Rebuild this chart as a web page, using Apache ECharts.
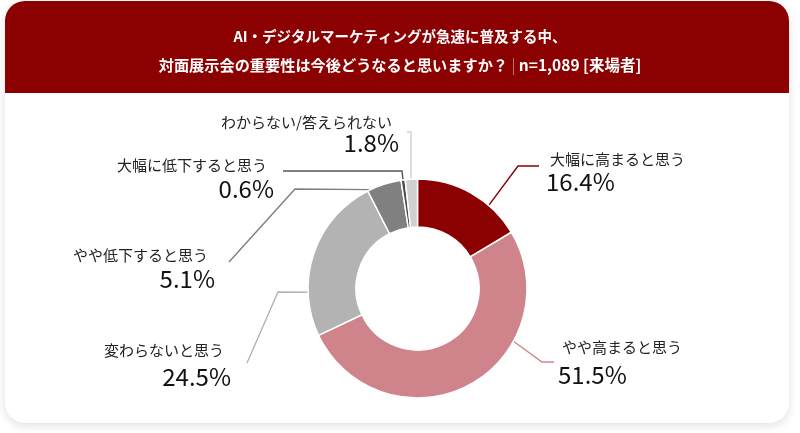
<!DOCTYPE html>
<html>
<head>
<meta charset="utf-8">
<script src="https://cdn.jsdelivr.net/npm/echarts@6/dist/echarts.min.js"></script>
<style>
  html, body { margin: 0; padding: 0; background: #fff; }
  #chart { width: 800px; height: 433px; }
</style>
</head>
<body>
<div id="chart"></div>
<script>
// データ
const categories = ["大幅に高まると思う", "やや高まると思う", "変わらないと思う", "やや低下すると思う", "大幅に低下すると思う", "わからない/答えられない"];
const values = [16.4, 51.5, 24.5, 5.1, 0.6, 1.8];
const colors = ["#8b0000", "#cf848c", "#b3b3b3", "#808080", "#4a4a4a", "#d0d0d0"];

// ドーナツの位置
const CX = 417.5, CY = 288.5, R_IN = 61.5, R_OUT = 109.5;
const FONT = '"Noto Sans CJK JP", "Noto Sans", sans-serif';

// ラベルの置き場所と引き出し線 (angle = 線の始点、時計回り・上が0度)
const labelSpots = [
  { x: 546, nameY: 159.5, valY: 182, align: "left", angle: 40.6, bend: [518, 166], end: [539, 166] },
  { x: 558, nameY: 347, valY: 375, align: "left", angle: 118.8, bend: [542, 362], end: [554, 362] },
  { x: 231, nameY: 350, valY: 377, align: "right", angle: 268, bend: [278, 292], end: [247, 363] },
  { x: 215, nameY: 255, valY: 279, align: "right", angle: 334.5, bend: [295, 189], end: [229, 262] },
  { x: 274, nameY: 165, valY: 189, align: "right", angle: 352.4, bend: [402, 171], end: [283, 171] },
  { x: 399, nameY: 122, valY: 143, align: "right", angle: 356.6, bend: [411, 132], end: [407, 132] },
];

const V_LH = 26;

function makeLabel(i) {
  const s = labelSpots[i];
  const gap = s.valY - s.nameY;
  const nLH = Math.max(2 * gap - V_LH, 12);
  return {
    rich: {
      n: {
        fontSize: 15, color: "#222", fontFamily: FONT, lineHeight: nLH,
        padding: s.align === "left" ? [0, 0, 0, 4] : [0, 7, 0, 0],
      },
      v: { fontSize: 24, color: "#111", fontFamily: FONT, lineHeight: V_LH },
    },
  };
}

const seriesData = categories.map((name, i) => ({
  name: name,
  value: values[i],
  itemStyle: { color: colors[i] },
  label: makeLabel(i),
  labelLine: { lineStyle: { color: colors[i] === "#4a4a4a" ? "#555" : colors[i], width: 1.4 } },
}));

const chart = echarts.init(document.getElementById("chart"));
chart.setOption({
  animation: false,
  graphic: [
    {
      type: "rect", z: 0,
      shape: { x: 5, y: 1, width: 784, height: 422, r: 20 },
      style: { fill: "#fff", shadowBlur: 10, shadowColor: "rgba(0,0,0,0.12)", shadowOffsetY: 3 },
    },
    {
      type: "rect", z: 1,
      shape: { x: 5, y: 1, width: 784, height: 92, r: [20, 20, 0, 0] },
      style: { fill: "#8b0000" },
    },
  ],
  title: {
    text: "{a|AI・デジタルマーケティングが急速に普及する中、}\n{b|対面展示会の重要性は今後どうなると思いますか？}{sep| | }{c|n=1,089 [来場者]}",
    left: "center",
    top: 17,
    textStyle: {
      color: "#fff",
      fontFamily: FONT,
      fontSize: 14.5,
      fontWeight: "bold",
      lineHeight: 29,
      rich: {
        a: { color: "#fff", fontSize: 14.5, fontWeight: "bold", fontFamily: FONT, lineHeight: 29 },
        b: { color: "#fff", fontSize: 15.2, fontWeight: "bold", fontFamily: FONT, lineHeight: 29 },
        c: { color: "#fff", fontSize: 15.5, fontWeight: "bold", fontFamily: FONT, lineHeight: 29 },
        sep: { color: "rgba(255,255,255,0.45)", fontSize: 15, fontWeight: "normal", fontFamily: FONT, lineHeight: 29 },
      },
    },
  },
  series: [
    {
      type: "pie",
      center: [CX, CY],
      radius: [R_IN, R_OUT],
      startAngle: 90,
      clockwise: true,
      avoidLabelOverlap: false,
      itemStyle: { borderColor: "#fff", borderWidth: 1.5 },
      label: {
        show: true,
        position: "outside",
        formatter: "{n|{b}}\n{v|{c}%}",
        fontFamily: FONT,
      },
      labelLine: { show: true, length: 10, length2: 10 },
      emphasis: { disabled: true },
      labelLayout: function (params) {
        const s = labelSpots[params.dataIndex];
        const a = s.angle * Math.PI / 180;
        const start = [CX + R_OUT * Math.sin(a), CY - R_OUT * Math.cos(a)];
        const gap = s.valY - s.nameY;
        const nLH = Math.max(2 * gap - V_LH, 12);
        return {
          x: s.x,
          y: s.nameY - nLH / 2,
          align: s.align,
          verticalAlign: "top",
          labelLinePoints: [start, s.bend, s.end],
        };
      },
      data: seriesData,
    },
  ],
});
</script>
</body>
</html>
